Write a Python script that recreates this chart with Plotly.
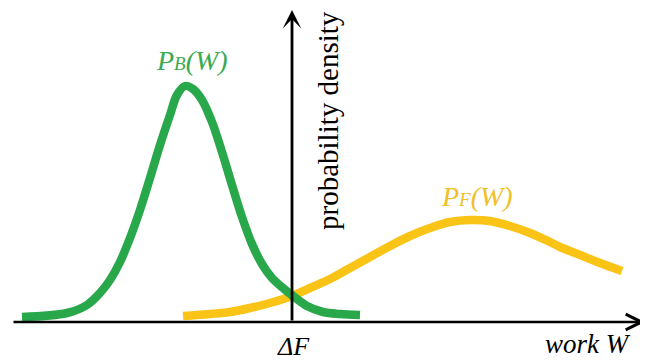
import plotly.graph_objects as go

# Work values (W, with ΔF at 0) and probability density
pb_w = [-270, -225, -205, -192, -182, -172, -162, -152, -142, -132, -122, -115, -107,
        -99, -90, -80, -70, -60, -50, -40, -30, -20, -9, 1, 15, 31, 48, 68]
pb_p = [5, 9, 17, 29, 42, 60, 84, 112, 144, 177, 207, 227, 236,
        233, 222, 200, 170, 137, 105, 78, 58, 44, 34, 26, 16, 10, 8, 7]

pf_w = [-109, -82, -62, -42, -22, 0, 18, 38, 58, 78, 98, 118, 138, 158, 178,
        198, 218, 238, 258, 268, 288, 308, 330]
pf_p = [6, 8, 10, 14, 19, 26, 34, 43, 54, 65, 76, 86, 94, 100, 102,
        101, 96, 89, 80, 75, 67, 59, 51]

GREEN = "rgb(40,168,74)"
YELLOW = "rgb(250,196,22)"
SERIF = "Liberation Serif"

fig = go.Figure()
fig.add_trace(go.Scatter(x=pf_w, y=pf_p, mode="lines",
                         line=dict(color=YELLOW, width=8.5, shape="spline"),
                         hoverinfo="skip"))
fig.add_trace(go.Scatter(x=pb_w, y=pb_p, mode="lines",
                         line=dict(color=GREEN, width=8.5, shape="spline"),
                         hoverinfo="skip"))

# axes drawn as arrows
fig.add_annotation(x=353, y=0, ax=-280, ay=0, xref="x", yref="y", axref="x", ayref="y",
                   showarrow=True, arrowhead=5, arrowsize=1.2, arrowwidth=2.6,
                   arrowcolor="black", text="")
fig.add_annotation(x=0, y=312, ax=0, ay=0, xref="x", yref="y", axref="x", ayref="y",
                   showarrow=True, arrowhead=3, arrowsize=1.1, arrowwidth=2.8,
                   arrowcolor="black", text="")

fig.add_annotation(x=-100, y=262, xref="x", yref="y", showarrow=False,
                   text="<i>P<span style='font-size:19px'>B</span>(W)</i>",
                   font=dict(family=SERIF, size=28, color="rgb(60,170,80)"))
fig.add_annotation(x=185, y=126, xref="x", yref="y", showarrow=False,
                   text="<i>P<span style='font-size:19px'>F</span>(W)</i>",
                   font=dict(family=SERIF, size=28, color="rgb(240,192,40)"))
fig.add_annotation(x=36, y=201, xref="x", yref="y", showarrow=False, textangle=-90,
                   text="probability density",
                   font=dict(family=SERIF, size=29, color="black"))
fig.add_annotation(x=1, y=-24, xref="x", yref="y", showarrow=False,
                   text="<i>ΔF</i>",
                   font=dict(family=SERIF, size=26, color="black"))
fig.add_annotation(x=296, y=-22, xref="x", yref="y", showarrow=False,
                   text="<i>work W</i>",
                   font=dict(family=SERIF, size=27, color="black"))

# page has an 8px body margin, so the figure is drawn 8px in from the corner
fig.update_layout(width=640, height=353, margin=dict(l=0, r=0, t=0, b=0),
                  paper_bgcolor="white", plot_bgcolor="white", showlegend=False)
fig.update_xaxes(range=[-284, 356], visible=False, fixedrange=True)
fig.update_yaxes(range=[-39, 314], visible=False, fixedrange=True)

fig.write_html("out.html")
